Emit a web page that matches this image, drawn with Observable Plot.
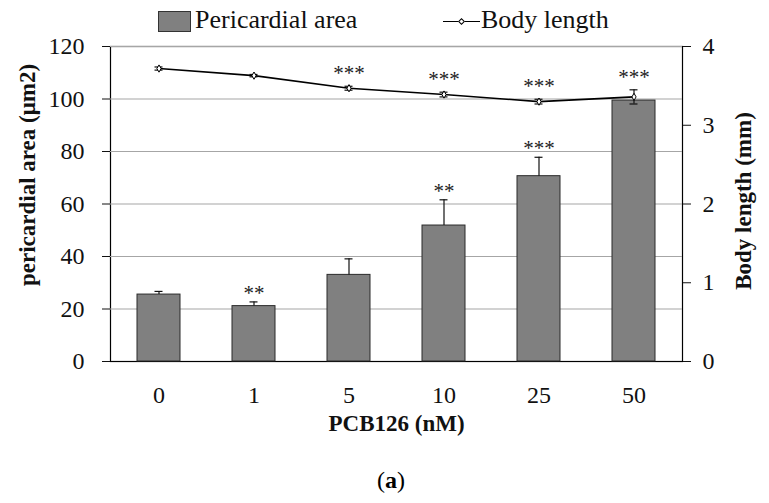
<!DOCTYPE html>
<html>
<head>
<meta charset="utf-8">
<script src="https://cdn.jsdelivr.net/npm/d3@7"></script>
<script src="https://cdn.jsdelivr.net/npm/@observablehq/plot@0.6"></script>
<style>
  body { margin: 0; background: #fff; font-family: "Liberation Serif", "Times New Roman", serif; }
  #wrap { width: 769px; position: relative; }
  #legend { position: relative; height: 34px; font-size: 26px; color: #111; }
  #legend .sw { position: absolute; left: 158px; top: 11px; width: 31px; height: 19px; background: #808080; border: 1px solid #333; }
  #legend .t1 { position: absolute; left: 195px; top: 6px; line-height: 28px; }
  #legend .ln { position: absolute; left: 443px; top: 21px; width: 37px; height: 0; border-top: 1.5px solid #000; }
  #legend .mk { position: absolute; left: 459px; top: 19px; width: 3px; height: 3px; background: #fff; border: 1px solid #000; transform: rotate(45deg); }
  #legend .t2 { position: absolute; left: 481px; top: 6px; line-height: 28px; }
  #cap { height: 53px; position: relative; font-size: 24px; }
  #cap span { position: absolute; left: 0; width: 782px; text-align: center; top: 17px; line-height: 26px; }
  svg { display: block; }
</style>
</head>
<body>
<div id="wrap">
  <div id="legend">
    <div class="sw"></div><div class="t1">Pericardial area</div>
    <div class="ln"></div><div class="mk"></div><div class="t2">Body length</div>
  </div>
  <div id="chart"></div>
  <div id="cap"><span>(<b>a</b>)</span></div>
</div>
<script>
const doses = ["0", "1", "5", "10", "25", "50"];
const areaMean = [25.5, 21.1, 33.0, 51.8, 70.6, 99.4];
const areaErr = [1.2, 1.6, 6.1, 9.8, 7.2, 0];
const areaSig = ["", "**", "", "**", "***", ""];
const lenMean = [3.72, 3.63, 3.47, 3.39, 3.30, 3.36];
const lenErr = [0.02, 0.015, 0.025, 0.03, 0.03, 0.09];
const lenSig = ["", "", "***", "***", "***", "***"];
const leftTicks = [0, 20, 40, 60, 80, 100, 120];
const rightTicks = [0, 1, 2, 3, 4];

const k = 30; // right axis (mm) to left axis units
const rows = doses.map((d, i) => ({
  dose: d, area: areaMean[i], aErr: areaErr[i], aSig: areaSig[i],
  len: lenMean[i] * k, lErr: lenErr[i] * k, lSig: lenSig[i]
}));

const font = "Liberation Serif, Times New Roman, serif";
const chart = Plot.plot({
  width: 769,
  height: 416,
  marginLeft: 110,
  marginRight: 87,
  marginTop: 12,
  marginBottom: 89,
  style: { fontFamily: font, fontSize: "24px", color: "#111", background: "#fff" },
  x: { domain: doses, padding: 0 },
  y: { domain: [0, 120] },
  marks: [
    Plot.frame({ stroke: "#000", strokeWidth: 1.2 }),
    Plot.gridY(leftTicks, { stroke: "#a6a6a6", strokeOpacity: 1, strokeWidth: 1.2 }),
    Plot.ruleY([0], { stroke: "#000", strokeWidth: 1.2 }),
    Plot.axisX({ tickSize: 0, tickPadding: 24, label: null, fontSize: 24 }),
    Plot.axisY(leftTicks, { anchor: "left", tickSize: 8, tickPadding: 18, label: null, fontSize: 24 }),
    Plot.axisY(rightTicks.map(v => v * k), { anchor: "right", tickSize: 8, tickPadding: 12, tickFormat: d => d / k, label: null, fontSize: 24 }),
    // bars
    Plot.barY(rows, { x: "dose", y: "area", fill: "#808080", stroke: "#2b2b2b", strokeWidth: 1, insetLeft: 26, insetRight: 26 }),
    Plot.ruleX(rows.filter(d => d.aErr > 0), { x: "dose", y1: "area", y2: d => d.area + d.aErr, stroke: "#111", strokeWidth: 1.2 }),
    Plot.tickY(rows.filter(d => d.aErr > 0), { x: "dose", y: d => d.area + d.aErr, stroke: "#111", strokeWidth: 1.2, insetLeft: 43.5, insetRight: 43.5 }),
    Plot.text(rows, { x: "dose", y: d => d.area + d.aErr, text: "aSig", dy: -9, fontSize: 21, fill: "#222" }),
    // body length line
    Plot.line(rows, { x: "dose", y: "len", stroke: "#000", strokeWidth: 1.6 }),
    Plot.ruleX(rows, { x: "dose", y1: d => d.len - d.lErr, y2: d => d.len + d.lErr, stroke: "#111", strokeWidth: 1.2 }),
    Plot.tickY(rows, { x: "dose", y: d => d.len + d.lErr, stroke: "#111", strokeWidth: 1.2, insetLeft: 43.5, insetRight: 43.5 }),
    Plot.tickY(rows, { x: "dose", y: d => d.len - d.lErr, stroke: "#111", strokeWidth: 1.2, insetLeft: 43.5, insetRight: 43.5 }),
    Plot.dot(rows, { x: "dose", y: "len", symbol: "diamond", r: 2.2, fill: "#fff", stroke: "#000", strokeWidth: 1 }),
    Plot.text(rows, { x: "dose", y: d => d.len + d.lErr, text: "lSig", dy: -13, fontSize: 21, fill: "#222" }),
    // axis titles
    Plot.text(["pericardial area (μm2)"], { frameAnchor: "left", textAnchor: "middle", rotate: -90, dx: -83, dy: -29, fontWeight: "bold", fontSize: 23 }),
    Plot.text(["Body length (mm)"], { frameAnchor: "right", textAnchor: "middle", rotate: -90, dx: 61, dy: -3, fontWeight: "bold", fontSize: 23 }),
    Plot.text(["PCB126 (nM)"], { frameAnchor: "bottom", dy: 69, fontWeight: "bold", fontSize: 23 })
  ]
});
document.getElementById("chart").appendChild(chart);
</script>
</body>
</html>
